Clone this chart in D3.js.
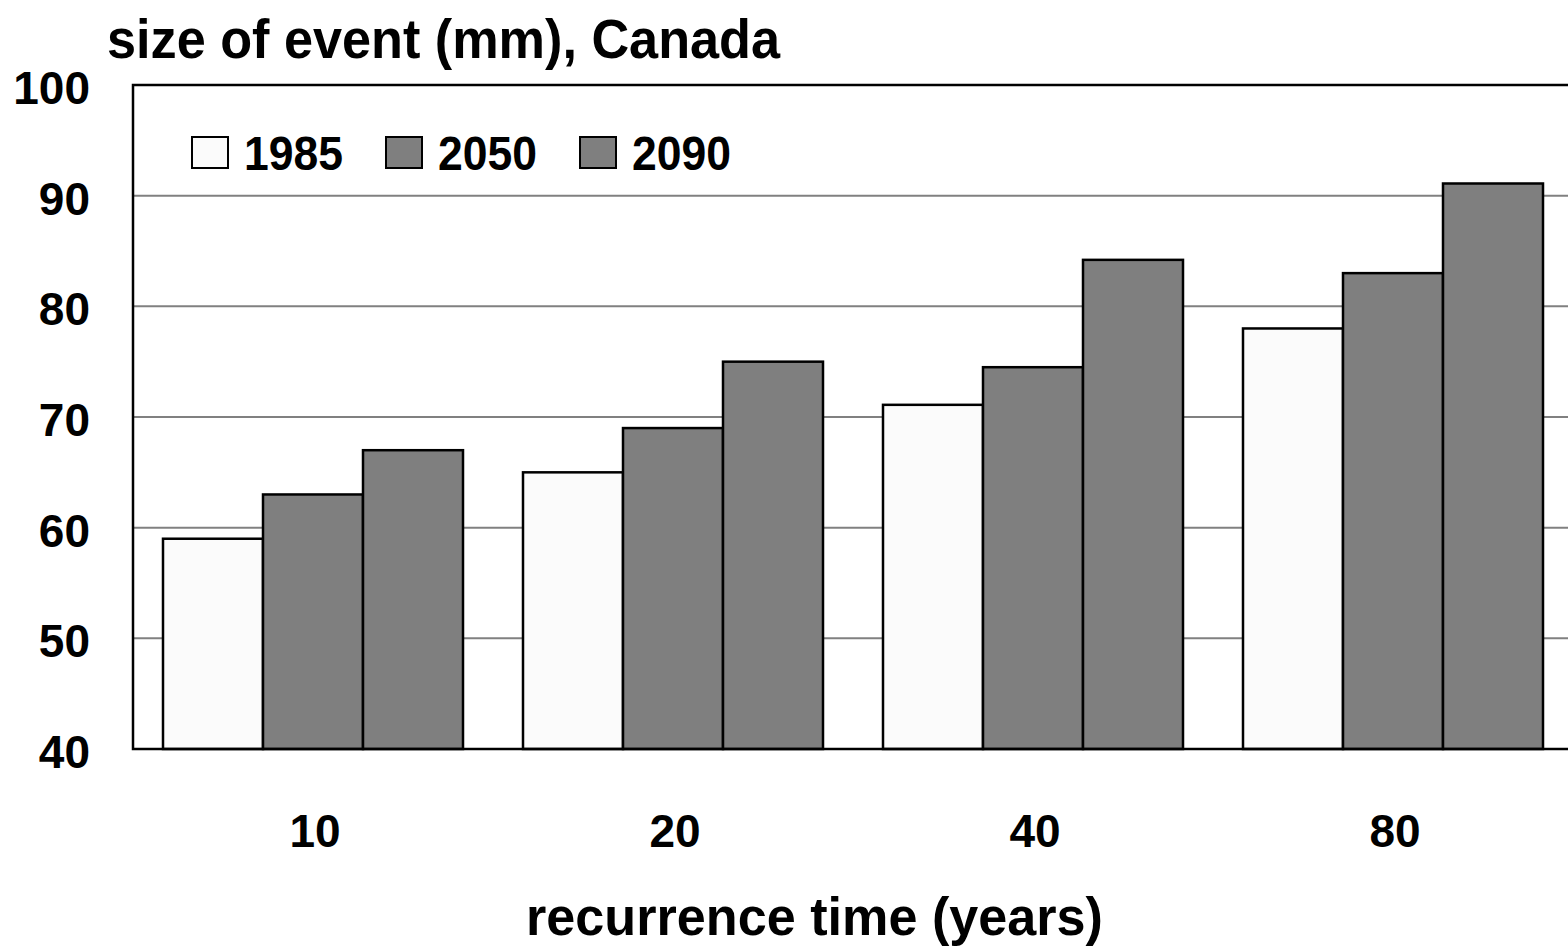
<!DOCTYPE html>
<html>
<head>
<meta charset="utf-8">
<script src="https://cdn.jsdelivr.net/npm/d3@7"></script>
<style>
  html, body { margin: 0; padding: 0; background: #fff; }
  svg { display: block; }
  text { font-family: "Liberation Sans Narrow", "Arial Narrow", "Liberation Sans", sans-serif; font-weight: bold; fill: #000; }
</style>
</head>
<body>
<svg id="chart" width="1568" height="949"></svg>
<script>
// Recurrence intervals (years) and event sizes (mm) per period
const categories = ["10", "20", "40", "80"];
const seriesNames = ["1985", "2050", "2090"];
const values1985 = [59, 65, 71.1, 78];
const values2050 = [63, 69, 74.5, 83];
const values2090 = [67, 75, 84.2, 91.1];
const yTicks = [40, 50, 60, 70, 80, 90, 100];
const seriesColors = ["#fbfbfb", "#7f7f7f", "#7f7f7f"];

const seriesValues = [values1985, values2050, values2090];
const rows = categories.map((c, i) => {
  const r = { cat: c };
  seriesNames.forEach((s, j) => { r[s] = seriesValues[j][i]; });
  return r;
});

const svg = d3.select("#chart");
const plotLeft = 133, plotTop = 85, plotBottom = 749, plotRight = 1573;

const x0 = d3.scaleBand().domain(categories).range([plotLeft, plotRight])
  .paddingInner(1 / 6).paddingOuter(1 / 12);
const x1 = d3.scaleBand().domain(seriesNames).range([0, x0.bandwidth()]);
const y = d3.scaleLinear().domain([40, 100]).range([plotBottom, plotTop]);
const color = d3.scaleOrdinal().domain(seriesNames).range(seriesColors);

// horizontal gridlines
svg.append("g").selectAll("line")
  .data(yTicks.filter(t => t > 40 && t < 100))
  .join("line")
  .attr("x1", plotLeft).attr("x2", 1568)
  .attr("y1", d => y(d)).attr("y2", d => y(d))
  .attr("stroke", "#808080").attr("stroke-width", 2);

// bars
svg.append("g").selectAll("g")
  .data(rows)
  .join("g")
  .attr("transform", d => `translate(${x0(d.cat)},0)`)
  .selectAll("rect")
  .data(d => seriesNames.map(s => ({ key: s, value: d[s] })))
  .join("rect")
  .attr("x", d => x1(d.key))
  .attr("width", x1.bandwidth())
  .attr("y", d => y(d.value))
  .attr("height", d => y(40) - y(d.value))
  .attr("fill", d => color(d.key))
  .attr("stroke", "#000").attr("stroke-width", 2.5);

// plot frame: top, left and bottom edges
svg.append("path")
  .attr("d", `M1568,${plotTop}H${plotLeft}V${plotBottom}H1568`)
  .attr("fill", "none").attr("stroke", "#000").attr("stroke-width", 2.5);

// y axis labels
const yAxis = d3.axisLeft(y).tickValues(yTicks).tickSize(0).tickPadding(43);
const gy = svg.append("g").attr("transform", `translate(${plotLeft},0)`).call(yAxis);
gy.select(".domain").remove();
gy.selectAll("text").style("font-size", "46px").attr("dy", "0.4em");

// x axis labels
const xAxis = d3.axisBottom(x0).tickSize(0).tickPadding(0);
const gx = svg.append("g").attr("transform", `translate(0,${plotBottom})`).call(xAxis);
gx.select(".domain").remove();
gx.selectAll("text").style("font-size", "46px").attr("x", 2).attr("y", 98).attr("dy", 0);

// titles
svg.append("text").attr("x", 107).attr("y", 58)
  .attr("textLength", 673).attr("lengthAdjust", "spacingAndGlyphs")
  .style("font-size", "56px").text("size of event (mm), Canada");
svg.append("text").attr("x", 526).attr("y", 935)
  .attr("textLength", 577).attr("lengthAdjust", "spacingAndGlyphs")
  .style("font-size", "54px").text("recurrence time (years)");

// legend
const legend = svg.append("g").selectAll("g")
  .data(seriesNames)
  .join("g")
  .attr("transform", (d, i) => `translate(${192 + i * 194},137)`);
legend.append("rect")
  .attr("width", 36).attr("height", 31)
  .attr("fill", d => color(d)).attr("stroke", "#000").attr("stroke-width", 2);
legend.append("text")
  .attr("x", 52).attr("y", 33)
  .attr("textLength", 99).attr("lengthAdjust", "spacingAndGlyphs")
  .style("font-size", "48px").text(d => d);
</script>
</body>
</html>
